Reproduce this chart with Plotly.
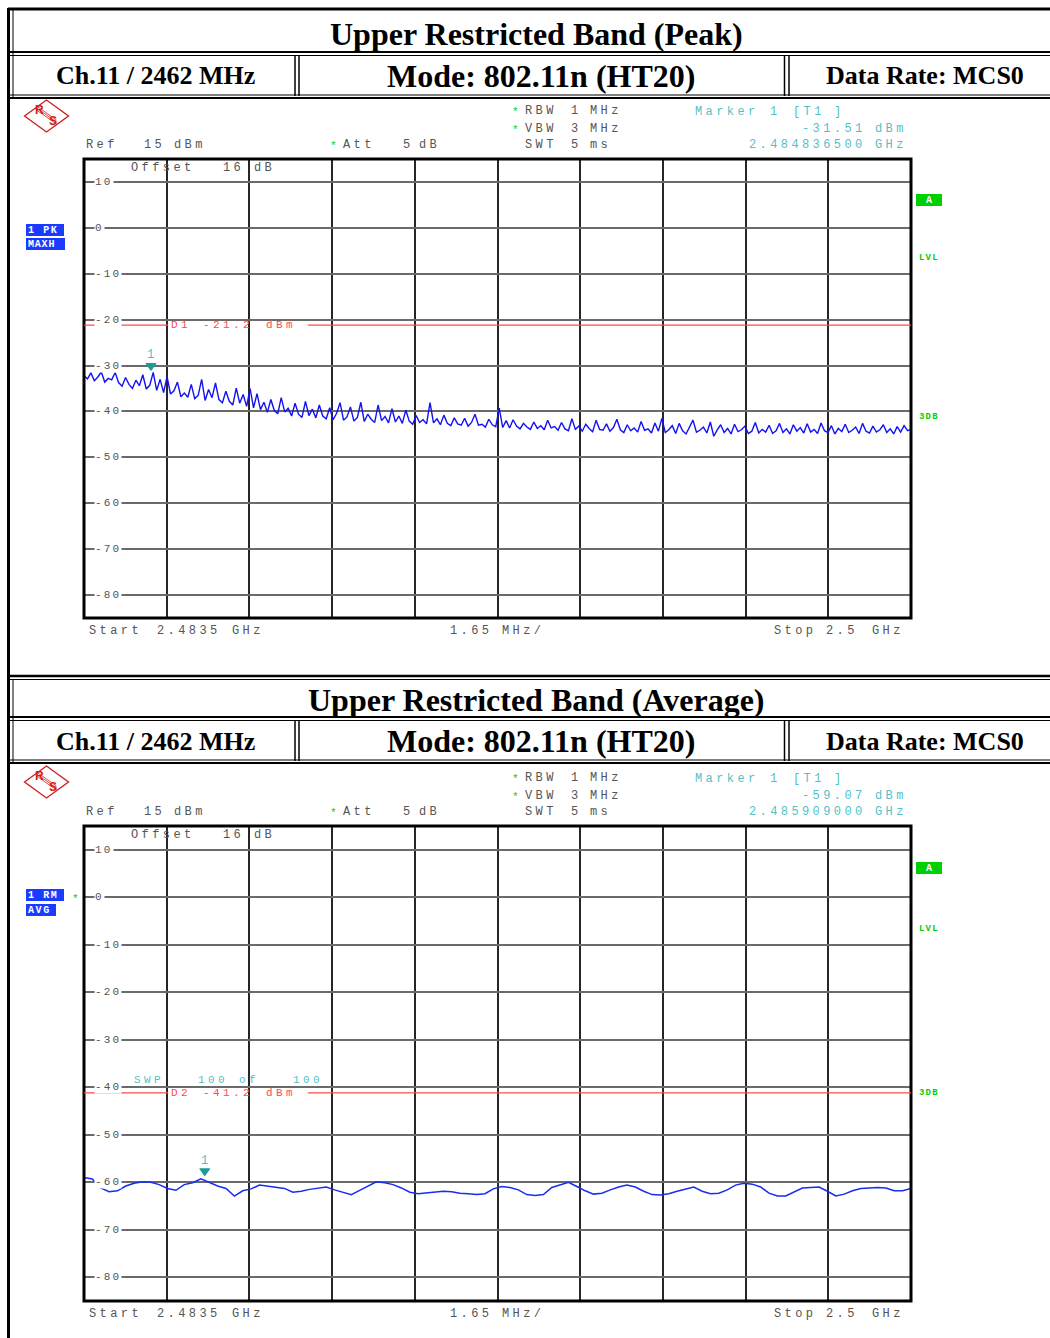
import numpy as np
import plotly.graph_objects as go

W, H = 1050, 1338

# ---------------- data ----------------
START_MHZ, STOP_MHZ = 2483.5, 2500.0
DIV_MHZ = 1.65
REF_TOP, REF_BOTTOM = 15, -85
Y_TICKS = [10, 0, -10, -20, -30, -40, -50, -60, -70, -80]

peak_dbm = [
    -32.2, -32.9, -31.6, -33.3, -32.5, -31.4, -33.6, -32.8, -33.1, -31.5,
    -33.7, -34.5, -32.6, -34.1, -35.0, -33.2, -34.4, -32.0, -35.1, -34.3,
    -31.5, -35.4, -33.0, -35.9, -32.4, -36.2, -35.5, -33.6, -36.8, -36.0,
    -36.9, -34.1, -37.2, -36.5, -33.0, -37.6, -35.2, -37.0, -33.8, -37.4,
    -38.1, -35.6, -37.8, -38.6, -34.9, -38.2, -36.3, -38.9, -35.0, -39.2,
    -36.1, -39.6, -38.0, -40.2, -37.4, -39.8, -40.5, -37.0, -40.1, -39.3,
    -41.0, -38.2, -40.6, -41.3, -37.8, -40.9, -39.5, -41.4, -38.6, -41.0,
    -41.6, -39.2, -41.8, -40.4, -38.1, -41.9, -41.2, -39.0, -42.1, -41.3,
    -38.0, -42.2, -40.6, -41.7, -42.4, -38.6, -42.0, -41.1, -42.5, -39.4,
    -42.3, -41.0, -42.6, -39.7, -42.1, -42.8, -40.9, -42.4, -41.8, -42.7,
    -38.1, -42.5, -41.6, -42.9, -40.8, -42.6, -43.1, -41.4, -42.7, -43.0,
    -41.5, -43.2, -42.4, -40.6, -43.0, -42.8, -43.4, -41.7, -42.9, -43.3,
    -39.3, -43.5, -42.0, -43.6, -41.8, -43.2, -43.8, -42.6, -43.4, -43.9,
    -42.3, -43.7, -43.1, -44.0, -41.9, -43.6, -43.3, -44.1, -42.4, -43.8,
    -44.2, -41.6, -43.9, -43.2, -44.3, -42.8, -43.7, -44.4, -41.9, -43.9,
    -44.1, -42.7, -44.3, -43.5, -41.7, -44.0, -44.6, -42.9, -44.2, -43.6,
    -44.5, -42.2, -44.1, -43.8, -44.7, -42.5, -44.3, -41.5, -44.6, -44.0,
    -43.1, -44.8, -42.6, -44.2, -44.9, -43.3, -41.9, -44.5, -44.1, -43.4,
    -44.7, -42.3, -45.4, -44.0, -42.9, -44.6, -43.7, -44.9, -42.8, -44.4,
    -44.0, -43.2, -44.8, -44.3, -42.4, -44.7, -43.9, -44.5, -43.0, -44.8,
    -44.2, -42.6, -44.6, -43.8, -44.9, -42.9, -44.3, -43.5, -44.7, -42.7,
    -44.5, -43.9, -44.8, -42.5, -44.2, -44.6, -43.1, -44.9, -43.7, -44.4,
    -42.8, -44.6, -44.1, -43.4, -44.8, -42.6, -44.3, -44.7, -43.2, -44.5,
    -44.0, -42.9, -44.6, -43.8, -44.9, -43.3, -44.5, -43.1, -44.2, -43.9,
]

avg_dbm = [
    -59.0, -59.3, -61.2, -62.0, -61.8, -60.8, -60.2, -59.9, -60.0, -60.5,
    -61.3, -61.7, -60.5, -60.1, -59.3, -60.1, -60.8, -61.3, -62.9, -61.8,
    -61.4, -60.6, -60.8, -61.1, -61.3, -62.1, -61.9, -61.5, -61.2, -61.0,
    -61.6, -62.1, -62.6, -61.7, -60.8, -59.9, -60.1, -60.5, -61.2, -62.1,
    -62.4, -62.2, -62.1, -61.9, -62.0, -62.3, -62.4, -62.6, -62.4, -61.4,
    -60.9, -61.1, -61.6, -62.6, -62.8, -62.6, -61.1, -60.6, -60.0, -60.9,
    -61.8, -62.5, -62.3, -61.6, -61.0, -60.6, -61.0, -61.9, -62.6, -62.7,
    -62.4, -61.9, -61.5, -61.0, -61.9, -62.4, -62.3, -61.6, -60.6, -60.2,
    -60.4, -61.0, -62.3, -62.9, -62.9, -62.0, -61.2, -61.1, -61.0, -61.9,
    -62.9, -62.5, -61.8, -61.3, -61.2, -61.1, -61.2, -61.8, -61.8, -61.3,
]

# marker / display-line readouts
markers = [dict(freq=2484.8365, level=-31.51, freq_text="2.484836500", level_text="-31.51"),
           dict(freq=2485.909, level=-59.07, freq_text="2.485909000", level_text="-59.07")]
display_lines = [dict(name="D1", level=-21.2), dict(name="D2", level=-41.2)]
titles = ["Upper Restricted Band (Peak)", "Upper Restricted Band (Average)"]
row_cells = ["Ch.11 / 2462 MHz", "Mode: 802.11n (HT20)", "Data Rate: MCS0"]
trace_labels = [("1 PK", "MAXH"), ("1 RM", "AVG")]

# ---------------- helpers ----------------
def X(p):
    return p / W

def Y(p):
    return 1 - p / H

shapes, anns = [], []

GRAY = "#555555"
TEAL = "#55bfc6"
TEAL_D = "#1a9c9c"
RED = "#ff4a4a"
GREEN = "#00d000"
BLUE_LBL = "#1a3cff"
LOGO = "#d02020"


def hline(y, x0, x1, w, color="black"):
    shapes.append(dict(type="line", xref="paper", yref="paper", x0=X(x0), x1=X(x1),
                       y0=Y(y), y1=Y(y), line=dict(color=color, width=w), layer="above"))


def vline(x, y0, y1, w, color="black"):
    shapes.append(dict(type="line", xref="paper", yref="paper", x0=X(x), x1=X(x),
                       y0=Y(y0), y1=Y(y1), line=dict(color=color, width=w), layer="above"))


def rect(x0, y0, x1, y1, fill):
    shapes.append(dict(type="rect", xref="paper", yref="paper", x0=X(x0), x1=X(x1),
                       y0=Y(y0), y1=Y(y1), fillcolor=fill, line=dict(width=0), layer="above"))


def txt(s, x, y, color=GRAY, size=12, ls=3.4, family="Liberation Mono", xanchor="left",
        bold=False, bg=None, yref="paper", yshift=0):
    body = f'<span style="letter-spacing:{ls}px">{s}</span>'
    if bold:
        body = f"<b>{body}</b>"
    anns.append(dict(text=body, x=X(x), y=(Y(y) if yref == "paper" else y), xref="paper", yref=yref,
                     xanchor=xanchor, yanchor="middle", showarrow=False, yshift=yshift,
                     font=dict(family=family, size=size, color=color),
                     bgcolor=bg, borderpad=0))


def serif(s, x, y, size):
    anns.append(dict(text=f"<b>{s}</b>", x=X(x), y=Y(y), xref="paper", yref="paper",
                     xanchor="center", yanchor="middle", showarrow=False,
                     font=dict(family="Liberation Serif", size=size, color="black")))


# ---------------- table frame ----------------
vline(8.5, 8, H, 3)
hline(9, 8, W, 3)
hline(676, 8, W, 2.5)
hline(679.5, 8, W, 1)
for top in (0, 665):
    hline(52 + top, 8, W, 2)
    hline(55.5 + top, 8, W, 1)
    hline(95 + top, 8, W, 1)
    hline(98 + top, 8, W, 2)
    for xv in (295, 299, 784.5, 789):
        vline(xv, 55 + top, 96 + top, 1.5)
    vline(13, (10 if top == 0 else 680), 97 + top, 1)

for t, yt, yr in [(titles[0], 34, 76), (titles[1], 700, 741)]:
    serif(t, 536, yt, 32)
    serif(row_cells[0], 155, yr, 26)
    serif(row_cells[1], 541, yr, 32)
    serif(row_cells[2], 925, yr, 26)

# ---------------- panels ----------------
panels = [dict(top=159, bot=618, off=0),
          dict(top=826, bot=1301, off=667)]

fig = go.Figure()

fig.add_trace(go.Scatter(x=np.linspace(START_MHZ, STOP_MHZ, len(peak_dbm)), y=peak_dbm,
                         mode="lines", line=dict(color="#1212f2", width=1.4),
                         xaxis="x", yaxis="y", hoverinfo="skip"))
fig.add_trace(go.Scatter(x=np.linspace(START_MHZ, STOP_MHZ, len(avg_dbm)), y=avg_dbm,
                         mode="lines", line=dict(color="#1a2cf0", width=1.5),
                         xaxis="x2", yaxis="y2", hoverinfo="skip"))

layout_axes = {}
for k, p in enumerate(panels):
    sfx = "" if k == 0 else "2"
    layout_axes["xaxis" + sfx] = dict(range=[START_MHZ, STOP_MHZ], tick0=START_MHZ, dtick=DIV_MHZ,
                                      showgrid=True, gridcolor="#262626", gridwidth=1.8,
                                      showticklabels=False, zeroline=False, showline=False,
                                      ticks="", domain=[X(84), X(911)], fixedrange=True,
                                      anchor="y" + sfx)
    layout_axes["yaxis" + sfx] = dict(range=[REF_BOTTOM, REF_TOP], tick0=-80, dtick=10,
                                      showgrid=True, gridcolor="#6a6a6a", gridwidth=1.6,
                                      showticklabels=False, zeroline=False, showline=False,
                                      ticks="", domain=[Y(p["bot"]), Y(p["top"])],
                                      anchor="x" + sfx, fixedrange=True)

for k, p in enumerate(panels):
    o = p["off"]
    sfx = "" if k == 0 else "2"
    yref = "y" + sfx
    xref = "x" + sfx
    # frame
    shapes.append(dict(type="rect", xref="paper", yref="paper", x0=X(84), x1=X(911),
                       y0=Y(p["bot"]), y1=Y(p["top"]), line=dict(color="black", width=3),
                       layer="above"))
    # y tick labels
    for t in Y_TICKS:
        txt(str(t), 94, t, size=11, ls=2.2, bg="white", yref=yref)
    # R&S logo
    cx, cy = 46.5, 116 + o - (1 if k else 0)
    shapes.append(dict(type="path", xref="paper", yref="paper",
                       path=f"M {X(cx-22)},{Y(cy)} L {X(cx)},{Y(cy-16)} L {X(cx+22)},{Y(cy)} L {X(cx)},{Y(cy+16)} Z",
                       line=dict(color=LOGO, width=1.4), layer="above"))
    for d in (-2.0, 0.0, 2.0):
        shapes.append(dict(type="line", xref="paper", yref="paper",
                           x0=X(cx - 10), y0=Y(cy - 8 + d), x1=X(cx + 10), y1=Y(cy + 6 + d),
                           line=dict(color=LOGO, width=0.8), layer="above"))
    anns.append(dict(text="<b>R</b>", x=X(cx - 7), y=Y(cy - 6), xref="paper", yref="paper",
                     xanchor="center", yanchor="middle",
                     showarrow=False, font=dict(family="Liberation Sans", size=12, color=LOGO)))
    anns.append(dict(text="<b>S</b>", x=X(cx + 6), y=Y(cy + 5), xref="paper", yref="paper",
                     xanchor="center", yanchor="middle",
                     showarrow=False, font=dict(family="Liberation Sans", size=12, color=LOGO)))
    # top readouts
    for yy, lab, val, unit, star in [(111, "RBW", "1", "MHz", True), (129, "VBW", "3", "MHz", True),
                                     (145, "SWT", "5", "ms", False)]:
        yv = yy + o
        if star:
            txt("*", 511, yv + 1, color=GREEN, size=11, ls=0)
        txt(lab, 524, yv)
        txt(val, 570, yv)
        txt(unit, 589, yv)
    txt("Marker", 694, 112 + o, color=TEAL)
    txt("1", 769, 112 + o, color=TEAL)
    txt("[T1", 792, 112 + o, color=TEAL)
    txt("]", 833, 112 + o, color=TEAL)
    txt(markers[k]["level_text"], 801, 129 + o, color=TEAL)
    txt("dBm", 874, 129 + o, color=TEAL)
    txt(markers[k]["freq_text"], 748, 145 + o, color=TEAL)
    txt("GHz", 874, 145 + o, color=TEAL)
    txt("Ref", 85, 145 + o)
    txt("15", 143, 145 + o)
    txt("dBm", 173, 145 + o)
    txt("*", 329, 146 + o, color=GREEN, size=11, ls=0)
    txt("Att", 342, 145 + o)
    txt("5", 402, 145 + o)
    txt("dB", 418, 145 + o)
    txt("Offset", 130, 168 + o)
    txt("16", 222, 168 + o)
    txt("dB", 253, 168 + o)
    # bottom
    yb = p["bot"] + 12.5
    txt("Start", 88, yb)
    txt("2.4835", 156, yb)
    txt("GHz", 231, yb)
    txt("1.65", 449, yb)
    txt("MHz/", 501, yb)
    txt("Stop", 773, yb)
    txt("2.5", 825, yb)
    txt("GHz", 871, yb)
    # trace labels
    l1, l2 = trace_labels[k]
    a = 224 + o - (2 if k else 0)
    rect(26, a, 64, a + 12, BLUE_LBL)
    txt(l1, 27, a + 6, color="white", size=10, ls=1.6, bold=True)
    b = 238 + o - (1 if k else 0)
    w2 = 65 if k == 0 else 56
    rect(26, b, w2, b + 12, BLUE_LBL)
    txt(l2, 26.5, b + 6, color="white", size=10, ls=0.8 if k == 0 else 1.6, bold=True)
    if k == 1:
        txt("*", 71, 899, color=GREEN, size=11, ls=0)
    # right side
    g = 194 + o + (1 if k else 0)
    rect(916, g, 942, g + 12, GREEN)
    txt("A", 925, g + 6, color="white", size=10, ls=0, bold=True)
    txt("LVL", 918, 258 + (671 if k else 0), color=GREEN, size=9, ls=1.2, bold=True)
    txt("3DB", 918, 417 if k == 0 else 1093, color=GREEN, size=9, ls=1.2, bold=True)
    # display line (limit)
    dl = display_lines[k]
    for a0, a1 in [(0.0, 0.1016), (0.2706, 1.0)]:
        shapes.append(dict(type="line", xref=xref + " domain", yref=yref, x0=a0, x1=a1,
                           y0=dl["level"], y1=dl["level"], line=dict(color=RED, width=1.2),
                           layer="above"))
    for s, xx in [(dl["name"], 170), (str(dl["level"]), 202), ("dBm", 265)]:
        txt(s, xx, dl["level"], color=RED, size=11, yref=yref, yshift=0)
    # marker
    m = markers[k]
    shapes.append(dict(type="path", xref=xref, yref=yref, xsizemode="pixel", ysizemode="pixel",
                       xanchor=m["freq"], yanchor=m["level"], path="M -5,9 L 5,9 L 0,2 Z",
                       fillcolor=TEAL_D, line=dict(color=TEAL_D, width=1), layer="above"))
    anns.append(dict(text="1", x=m["freq"], y=m["level"], xref=xref, yref=yref, yshift=17,
                     showarrow=False, font=dict(family="Liberation Mono", size=12, color=TEAL)))

# sweep count (average panel)
for s, xx in [("SWP", 133), ("100", 197), ("of", 238), ("100", 292)]:
    txt(s, xx, 1080, color=TEAL, size=11)

fig.update_layout(width=W, height=H, margin=dict(l=0, r=0, t=0, b=0),
                  paper_bgcolor="white", plot_bgcolor="white", showlegend=False,
                  shapes=shapes, annotations=anns, **layout_axes)

fig.write_html("out.html", config={"displayModeBar": False})
